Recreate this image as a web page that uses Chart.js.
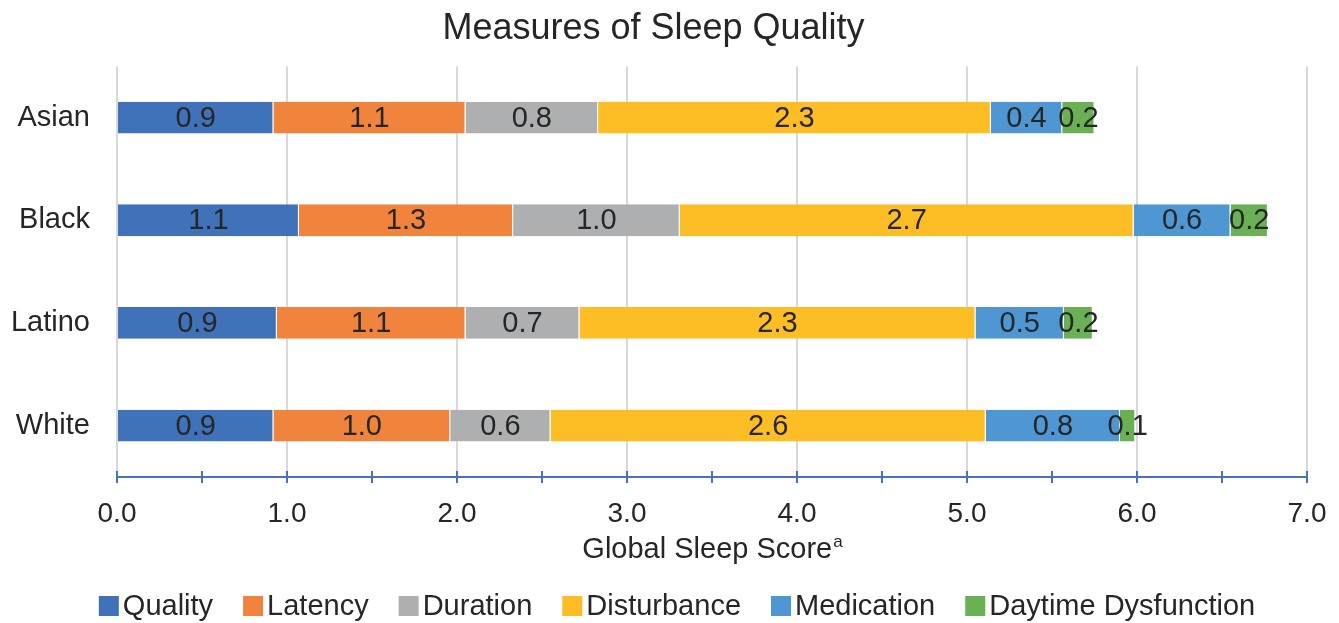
<!DOCTYPE html>
<html>
<head>
<meta charset="utf-8">
<script src="https://cdn.jsdelivr.net/npm/chart.js@4"></script>
<style>
  html, body { margin: 0; padding: 0; background: #fff; }
  #wrap { width: 1339px; height: 623px; }
</style>
</head>
<body>
<div id="wrap"><canvas id="sleepChart" width="1339" height="623"></canvas></div>
<script>
// categories and series
const groups = ['Asian', 'Black', 'Latino', 'White'];
const quality = [0.92, 1.07, 0.94, 0.92];
const latency = [1.13, 1.26, 1.11, 1.04];
const duration = [0.78, 0.98, 0.67, 0.59];
const disturbance = [2.31, 2.67, 2.33, 2.56];
const medication = [0.42, 0.57, 0.52, 0.79];
const daytime = [0.19, 0.22, 0.17, 0.09];
const xTicks = [0, 0.5, 1, 1.5, 2, 2.5, 3, 3.5, 4, 4.5, 5, 5.5, 6, 6.5, 7];

const FONT = "'Liberation Sans', Arial, sans-serif";
const TEXT = '#262626';
const AXIS_BLUE = '#4472C4';

function series(label, data, color) {
  return {
    label: label,
    data: data,
    backgroundColor: color,
    borderColor: '#ffffff',
    borderWidth: { left: 0, right: 1, top: 0, bottom: 0 },
    borderSkipped: false,
    barPercentage: 0.31,
    categoryPercentage: 1.0
  };
}

// segment labels, tick marks crossing the axis, axis title and legend
const sleepExtras = {
  id: 'sleepExtras',
  afterDatasetsDraw(chart) {
    const ctx = chart.ctx;
    ctx.save();
    ctx.font = '29px ' + FONT;
    ctx.fillStyle = TEXT;
    ctx.textAlign = 'center';
    ctx.textBaseline = 'middle';
    chart.data.datasets.forEach((ds, i) => {
      chart.getDatasetMeta(i).data.forEach((bar, j) => {
        const cx = (bar.x + bar.base) / 2;
        ctx.fillText(ds.data[j].toFixed(1), cx, bar.y + 1);
      });
    });
    ctx.restore();
  },
  afterDraw(chart) {
    const ctx = chart.ctx;
    const xs = chart.scales.x;
    const y0 = chart.chartArea.bottom;
    ctx.save();
    ctx.strokeStyle = AXIS_BLUE;
    ctx.lineWidth = 2;
    xTicks.forEach(v => {
      const px = Math.round(xs.getPixelForValue(v));
      ctx.beginPath();
      ctx.moveTo(px, y0 - 6);
      ctx.lineTo(px, y0 + 6);
      ctx.stroke();
    });

    // axis title with superscript a
    const main = 'Global Sleep Score';
    ctx.fillStyle = TEXT;
    ctx.textBaseline = 'alphabetic';
    ctx.textAlign = 'left';
    ctx.font = '29px ' + FONT;
    const w1 = ctx.measureText(main).width;
    ctx.font = '17px ' + FONT;
    const w2 = ctx.measureText('a').width;
    const cx = (chart.chartArea.left + chart.chartArea.right) / 2;
    const startX = cx - (w1 + w2) / 2;
    ctx.font = '29px ' + FONT;
    ctx.fillText(main, startX, 558);
    ctx.font = '17px ' + FONT;
    ctx.fillText('a', startX + w1 + 1, 547);

    // legend
    const box = 20, gap = 4, spacing = 30, legendY = 606, legendCenter = 677;
    ctx.font = '29px ' + FONT;
    ctx.textBaseline = 'middle';
    const items = chart.data.datasets.map(ds => ({
      label: ds.label, color: ds.backgroundColor, w: ctx.measureText(ds.label).width
    }));
    const total = items.reduce((s, it) => s + box + gap + it.w, 0) + spacing * (items.length - 1);
    let lx = legendCenter - total / 2;
    items.forEach(it => {
      ctx.fillStyle = it.color;
      ctx.fillRect(lx, legendY - box / 2, box, box);
      ctx.fillStyle = TEXT;
      ctx.fillText(it.label, lx + box + gap, legendY + 1);
      lx += box + gap + it.w + spacing;
    });
    ctx.restore();
  }
};

const sleepBox = document.getElementById('sleepChart');

const sleepData = {
  labels: groups,
  datasets: [
    series('Quality', quality, '#3F72B8'),
    series('Latency', latency, '#F0843C'),
    series('Duration', duration, '#AEAFB1'),
    series('Disturbance', disturbance, '#FDBD25'),
    series('Medication', medication, '#4F97D2'),
    series('Daytime Dysfunction', daytime, '#6AB155')
  ]
};

const sleepOptions = {
  indexAxis: 'y',
  responsive: false,
  animation: false,
  layout: { padding: { left: 0, right: 32, top: 0, bottom: 56 } },
  plugins: {
    title: {
      display: true,
      text: 'Measures of Sleep Quality',
      color: TEXT,
      font: { family: FONT, size: 36, weight: 'normal' },
      padding: { top: 7, bottom: 16 }
    },
    legend: { display: false },
    tooltip: { enabled: false }
  },
  scales: {
    x: {
      stacked: true,
      min: 0,
      max: 7,
      afterFit(scale) {
        scale.height = 90;
        scale.paddingLeft = 0;
        scale.paddingRight = 0;
      },
      afterBuildTicks(scale) { scale.ticks = xTicks.map(v => ({ value: v })); },
      grid: {
        color: c => (c.tick && c.tick.value % 1 === 0) ? '#D9D9D9' : 'rgba(0,0,0,0)',
        lineWidth: 2,
        drawTicks: false
      },
      border: { display: true, color: AXIS_BLUE, width: 2 },
      ticks: {
        autoSkip: false,
        maxRotation: 0,
        padding: 20,
        color: TEXT,
        font: { family: FONT, size: 28 },
        callback: v => (v % 1 === 0 ? v.toFixed(1) : '')
      }
    },
    y: {
      stacked: true,
      afterFit(scale) { scale.width = 117; },
      grid: { display: false, drawTicks: false },
      border: { display: false },
      ticks: {
        padding: 27,
        color: TEXT,
        font: { family: FONT, size: 29 }
      }
    }
  }
};

const sleepChart = new Chart(sleepBox, {
  type: 'bar',
  data: sleepData,
  options: sleepOptions,
  plugins: [sleepExtras]
});
</script>
</body>
</html>
